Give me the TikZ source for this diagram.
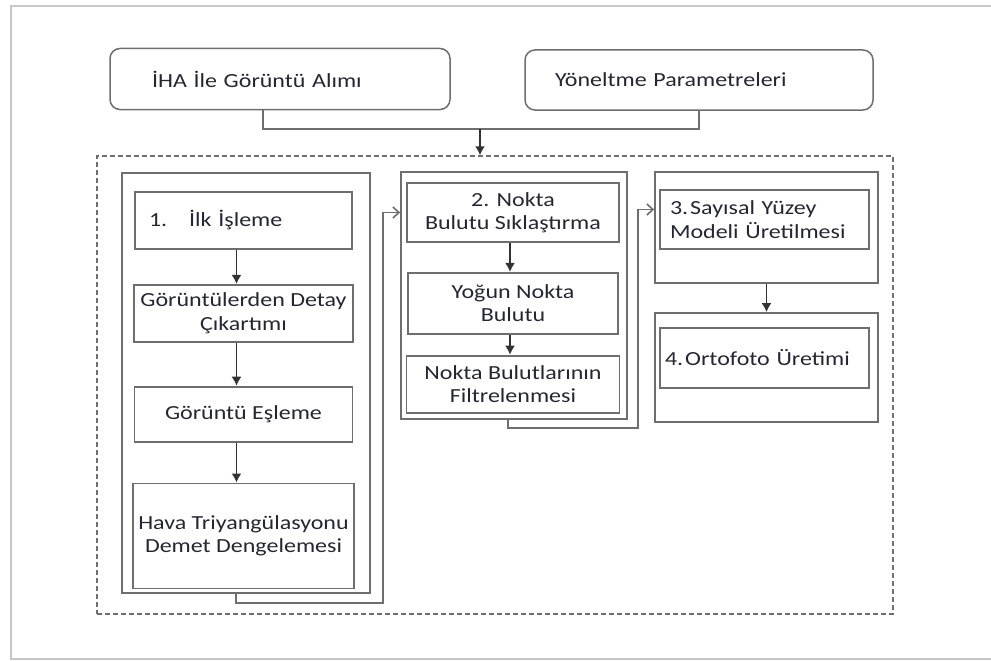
\documentclass[tikz,border=0pt]{standalone}
\usepackage{fontspec}
\setmainfont[FakeStretch=1.2]{Carlito}
\usepackage{tikz}
\usetikzlibrary{arrows.meta,positioning}

\definecolor{lgray}{HTML}{6E6E6E}
\definecolor{ink}{HTML}{262633}

\tikzstyle{src} = [draw=lgray, line width=1.5pt, rounded corners=10pt, text=ink, align=left, minimum height=61pt]
\tikzstyle{grp} = [draw=lgray, line width=1.8pt, inner sep=0pt]
\tikzstyle{blk} = [draw=lgray, line width=1.8pt, text=ink, align=center, inner xsep=3pt]
\tikzstyle{fedge} = [draw=black!80, line width=1.6pt, -{Latex[length=9pt,width=10pt]}]
\tikzstyle{bedge} = [draw=lgray, line width=1.6pt, -{Straight Barb[length=6pt,width=11pt]}]
\tikzstyle{wire} = [draw=lgray, line width=1.6pt]

\begin{document}
\begin{tikzpicture}[x=1pt, y=-1pt, font=\fontsize{20}{23.5}\selectfont]

\useasboundingbox (0,0) rectangle (991,661);
\draw[black!22, line width=2pt] (991,6) -- (11,6) -- (11,659) -- (991,659);

% inputs =============================
\node[src, text width=256pt, inner xsep=42pt] (iha) at (280,79) {İHA İle Görüntü Alımı};
\node[src, text width=288pt, inner xsep=30pt, minimum height=60pt] (yon) at (699,80) {Yöneltme Parametreleri};

\node[draw=lgray, line width=1.5pt, dash pattern=on 5pt off 3pt, minimum width=796pt, minimum height=458pt] (main) at (495,385) {};

\coordinate (jn) at (480,129);
\path[wire] ([xshift=-17pt]iha.south) |- (jn);
\path[wire] (yon.south) |- (jn);
\path[fedge] (jn) -- (jn |- main.north);

% 1. ilk isleme =============================
\node[grp, minimum width=248pt, minimum height=420pt] (g1) at (246,383) {};

\node[blk, align=left, text width=189pt, inner xsep=14pt, minimum height=57pt] (p1) at (243.5,220.5) {1.\hspace{22pt}İlk İşleme};
\node[blk, minimum width=219pt, minimum height=57pt, below=34pt of p1] (p2) {Görüntülerden Detay\\Çıkartımı};
\node[blk, minimum width=218pt, minimum height=55pt, below=43pt of p2] (p3) {Görüntü Eşleme};
\node[blk, minimum width=221pt, minimum height=105pt, below=40pt of p3] (p4) {Hava Triyangülasyonu\\Demet Dengelemesi};

% edges
\path[fedge] ([xshift=-7pt]p1.south) -- ([xshift=-7pt]p2.north);
\path[fedge] ([xshift=-7pt]p2.south) -- ([xshift=-7pt]p3.north);
\path[fedge] ([xshift=-7pt]p3.south) -- ([xshift=-7pt]p4.north);

% 2. nokta bulutu =============================
\node[grp, minimum width=226pt, minimum height=247pt] (g2) at (514,295.5) {};

\node[blk, minimum width=212pt, minimum height=59pt] (p5) at (513,212.5) {2. Nokta\\Bulutu Sıklaştırma};
\node[blk, minimum width=210pt, minimum height=61pt, below=29pt of p5] (p6) {Yoğun Nokta\\Bulutu};
\node[blk, minimum width=213pt, minimum height=57pt, below=20pt of p6] (p7) {Nokta Bulutlarının\\Filtrelenmesi};

\path[fedge] ([xshift=-3pt]p5.south) -- ([xshift=-3pt]p6.north);
\path[fedge] ([xshift=-3pt]p6.south) -- ([xshift=-3pt]p7.north);

\coordinate (k1) at (383,603);
\path[bedge] ([xshift=-10pt]g1.south) |- (k1) |- (p5 -| g2.west);

% 3. / 4. =============================
\node[grp, minimum width=223pt, minimum height=111pt] (g3a) at (766.5,227.5) {};
\node[grp, minimum width=223pt, minimum height=109pt] (g3b) at (766.5,367.5) {};

\node[blk, align=left, text width=189pt, inner xsep=10pt, minimum height=59pt] (p8) at (764.5,219.5) {3.\hspace{2pt}Sayısal Yüzey\\Modeli Üretilmesi};
\node[blk, align=left, text width=199pt, inner xsep=5pt, minimum height=60pt] (p9) at (764.5,358) {4.\hspace{2pt}Ortofoto Üretimi};

\coordinate (k2) at (638,428);
\path[bedge] ([xshift=-6pt]g2.south) |- (k2) |- ([yshift=18pt]g3a.west);
\path[fedge] (g3a.south) -- (g3b.north);

\end{tikzpicture}
\end{document}
